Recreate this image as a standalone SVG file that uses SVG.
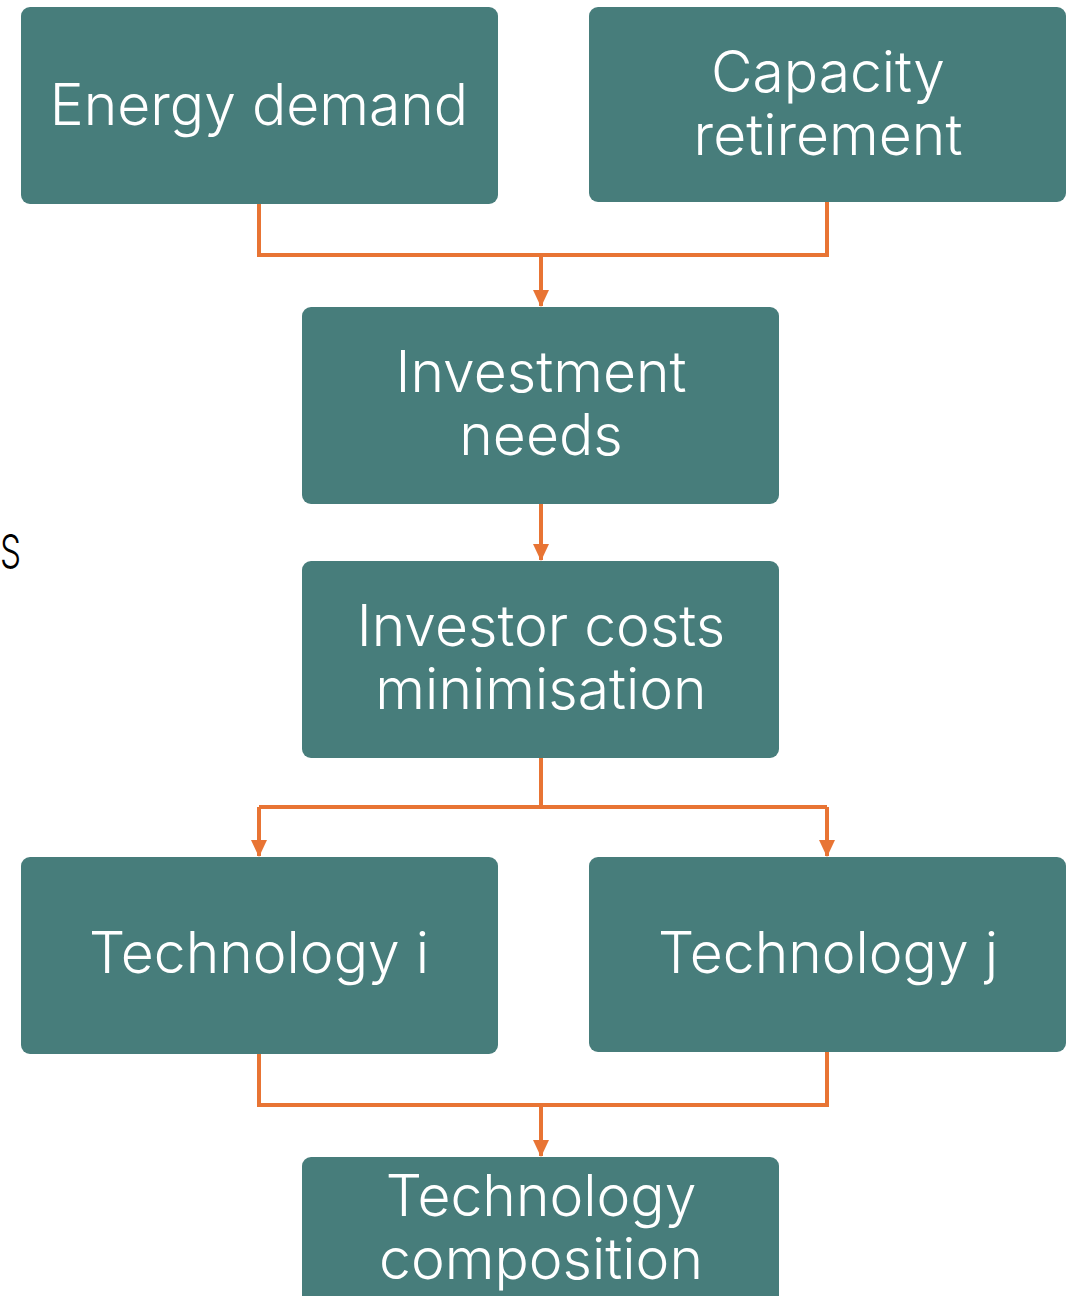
<svg xmlns="http://www.w3.org/2000/svg" width="1082" height="1296" viewBox="0 0 1082 1296">
  <style>
    .box { fill: #477d7b; }
    .lbl { fill: #ffffff; font-family: Inter, "Open Sans", "Liberation Sans", sans-serif; font-weight: 300; font-size: 57px; text-anchor: middle; }
    .wire { fill: none; stroke: #e87434; stroke-width: 4; }
    .side { fill: #000000; font-family: Inter, "Liberation Sans", sans-serif; font-weight: 300; font-size: 46px; }
  </style>
  <defs>
    <!-- arrowhead, tip sits on the path end -->
    <marker id="head" viewBox="0 0 17 16" refX="16" refY="8" markerWidth="17" markerHeight="16" markerUnits="userSpaceOnUse" orient="auto" overflow="visible">
      <path d="M0,0 L17,8 L0,16 Z" fill="#e87434"/>
    </marker>
  </defs>

  <text class="side" x="0" y="568" textLength="21" lengthAdjust="spacingAndGlyphs">S</text>

  <g id="connectors">
    <path class="wire" d="M259,204 V255 H541 M827,202 V255 H541"/>
    <path class="wire" d="M541,255 V306" marker-end="url(#head)"/>
    <path class="wire" d="M541,504 V560" marker-end="url(#head)"/>
    <path class="wire" d="M541,758 V807 H259 M541,807 H827"/>
    <path class="wire" d="M259,807 V856" marker-end="url(#head)"/>
    <path class="wire" d="M827,807 V856" marker-end="url(#head)"/>
    <path class="wire" d="M259,1054 V1105 H541 M827,1052 V1105 H541"/>
    <path class="wire" d="M541,1105 V1156" marker-end="url(#head)"/>
  </g>

  <g id="energy-demand">
    <rect class="box" x="21" y="7" width="477" height="197" rx="9"/>
    <text class="lbl" x="259" y="125">Energy demand</text>
  </g>
  <g id="capacity-retirement">
    <rect class="box" x="589" y="7" width="477" height="195" rx="9"/>
    <text class="lbl" x="828" y="92">Capacity</text>
    <text class="lbl" x="828" y="155">retirement</text>
  </g>
  <g id="investment-needs">
    <rect class="box" x="302" y="307" width="477" height="197" rx="9"/>
    <text class="lbl" x="541" y="392">Investment</text>
    <text class="lbl" x="541" y="455">needs</text>
  </g>
  <g id="investor-costs">
    <rect class="box" x="302" y="561" width="477" height="197" rx="9"/>
    <text class="lbl" x="541" y="646">Investor costs</text>
    <text class="lbl" x="541" y="709">minimisation</text>
  </g>
  <g id="technology-i">
    <rect class="box" x="21" y="857" width="477" height="197" rx="9"/>
    <text class="lbl" x="259" y="973">Technology i</text>
  </g>
  <g id="technology-j">
    <rect class="box" x="589" y="857" width="477" height="195" rx="9"/>
    <text class="lbl" x="828" y="973">Technology j</text>
  </g>
  <g id="technology-composition">
    <rect class="box" x="302" y="1157" width="477" height="160" rx="9"/>
    <text class="lbl" x="541" y="1216">Technology</text>
    <text class="lbl" x="541" y="1279">composition</text>
  </g>
</svg>
